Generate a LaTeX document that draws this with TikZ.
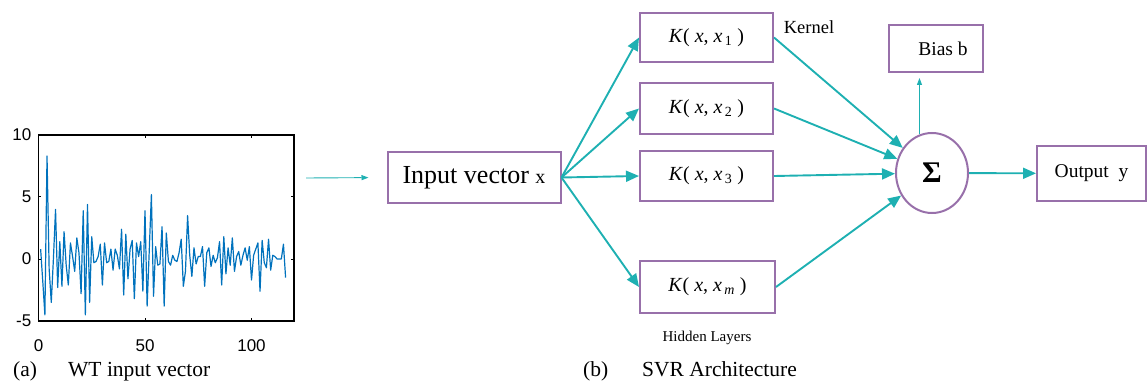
\documentclass[tikz,border=0pt]{standalone}
\usepackage{fontspec}
\setmainfont{Liberation Serif}
\newfontfamily\axisfont{Liberation Sans}
\usetikzlibrary{arrows.meta,shapes.geometric}
\definecolor{svrteal}{RGB}{30,176,178}
\definecolor{svrpurple}{RGB}{152,112,170}
\definecolor{wtblue}{RGB}{0,114,189}
\def\wtsignal{(1,0.8) -- (2,-1.8) -- (3,-4.5) -- (4,8.3) -- (5,-0.8) -- (6,-3.5) -- (7,0.0) -- (8,4.0) -- (9,-2.3) -- (10,1.4)
 -- (11,-2.2) -- (12,2.2) -- (13,-0.5) -- (14,-2.1) -- (15,1.3) -- (16,0.2) -- (17,-1.0) -- (18,1.7) -- (19,0.5) -- (20,-2.8)
 -- (21,3.9) -- (22,-4.5) -- (23,4.4) -- (24,-3.5) -- (25,1.8) -- (26,-0.3) -- (27,-0.2) -- (28,0.2) -- (29,1.2) -- (30,-2.1)
 -- (31,1.3) -- (32,-0.3) -- (33,-0.2) -- (34,0.8) -- (35,-0.9) -- (36,0.8) -- (37,0.3) -- (38,-0.8) -- (39,2.4) -- (40,-2.9)
 -- (41,2.0) -- (42,-1.6) -- (43,0.8) -- (44,1.5) -- (45,-3.2) -- (46,1.3) -- (47,0.2) -- (48,1.4) -- (49,-2.6) -- (50,3.9)
 -- (51,-3.8) -- (52,0.7) -- (53,5.2) -- (54,-3.0) -- (55,1.0) -- (56,-0.5) -- (57,-0.4) -- (58,2.6) -- (59,-3.8) -- (60,2.1)
 -- (61,-0.2) -- (62,-0.5) -- (63,0.3) -- (64,-0.1) -- (65,-0.2) -- (66,0.5) -- (67,1.6) -- (68,-2.2) -- (69,-1.0) -- (70,3.5)
 -- (71,0.3) -- (72,-1.4) -- (73,0.9) -- (74,-0.4) -- (75,0.2) -- (76,0.2) -- (77,1.0) -- (78,-2.2) -- (79,0.5) -- (80,0.9)
 -- (81,-0.6) -- (82,0.3) -- (83,-0.3) -- (84,0.1) -- (85,1.4) -- (86,-2.1) -- (87,1.8) -- (88,-1.2) -- (89,0.9) -- (90,-0.5)
 -- (91,1.7) -- (92,-1.0) -- (93,0.2) -- (94,0.6) -- (95,-0.5) -- (96,0.3) -- (97,0.9) -- (98,-0.1) -- (99,1.0) -- (100,-1.7)
 -- (101,0.3) -- (102,0.8) -- (103,1.3) -- (104,-2.6) -- (105,1.5) -- (106,-0.3) -- (107,-0.7) -- (108,1.6) -- (109,-0.9) -- (110,0.3)
 -- (111,0.2) -- (112,0.0) -- (113,0.0) -- (114,0.0) -- (115,1.2) -- (116,-1.5)}
\tikzset{
    kbox/.style={draw=svrpurple, line width=2pt, minimum width=133pt, minimum height=50pt,
        inner sep=0pt, font=\fontsize{20}{22}\selectfont},
    link/.style={svrteal, line width=1.9pt, -{Triangle[length=13pt,width=11pt]}},
    thinlink/.style={svrteal, line width=0.9pt, -{Triangle[length=7pt,width=5pt]}},
    ticklabel/.style={font=\axisfont\fontsize{17}{17}\selectfont, inner sep=0pt},
    caption/.style={font=\fontsize{21.5}{24}\selectfont, inner sep=0pt, anchor=base west},
}

\begin{document}
\begin{tikzpicture}[x=1pt, y=-1pt]
    \useasboundingbox (0,0) rectangle (1147,387);
    % (a) the WT signal
    \begin{scope}[shift={(38.5,259)}, x=2.13pt, y=12.4pt]
        \draw[wtblue, line width=1.2pt, line join=round] \wtsignal;
        \draw[line width=1.3pt] (0,-5) rectangle (120,10);
        \foreach \t in {50,100} {
            \draw[line width=1pt] (\t,-5) -- ++(0,0.25);
            \draw[line width=1pt] (\t,10) -- ++(0,-0.25);
        }
        \foreach \t in {-5,0,5,10} {
            \draw[line width=1pt] (0,\t) -- ++(1.4,0);
            \draw[line width=1pt] (120,\t) -- ++(-1.4,0);
        }
        \foreach \t in {0,50,100}
            \node[ticklabel] (xt\t) at (\t,-6.95) {\t};
        \foreach \t in {-5,0,5,10}
            \node[ticklabel, anchor=east] (yt\t) at (-3.3,\t) {\t};
    \end{scope}
    \node[caption] (capa) at (13,376) {(a)};
    \node[caption] (capatext) at (68,376) {WT input vector};

    % (b) the SVR network
    \node[kbox, minimum width=173pt, minimum height=51pt, font=\fontsize{26}{28}\selectfont]
        (input) at (474,177.5) {Input vector {\fontsize{20}{20}\selectfont x}};
    \node[kbox, minimum height=49pt] (k1) at (706.5,37.5) {\textit{K}( \textit{x}, \textit{x}\textsubscript{\,1} )};
    \node[kbox, minimum height=51pt] (k2) at (706.5,108.5) {\textit{K}( \textit{x}, \textit{x}\textsubscript{\,2} )};
    \node[kbox] (k3) at (706.5,176) {\textit{K}( \textit{x}, \textit{x}\textsubscript{\,3} )};
    \node[kbox, minimum width=135pt, minimum height=52pt] (km) at (707.5,287)
        {\raisebox{-6pt}{\textit{K}( \textit{x}, \textit{x}\textsubscript{\,\textit{m}} )}};
    \node[font=\fontsize{18.5}{20}\selectfont, inner sep=0pt] (kernel) at (809,27) {Kernel};
    \node[font=\fontsize{15}{16}\selectfont, inner sep=0pt] (hidden) at (707,338) {Hidden Layers};
    \node[kbox, minimum width=94pt, minimum height=47pt, font=\fontsize{19.5}{21}\selectfont]
        (bias) at (936,48.5) {\hspace*{14pt}Bias b};
    \node[ellipse, draw=svrpurple, line width=2pt, minimum width=72pt, minimum height=80pt,
        inner sep=0pt, font=\bfseries\fontsize{30}{30}\selectfont] (sum) at (932,173) {Σ};
    \node[kbox, minimum width=109pt, minimum height=55pt, font=\fontsize{19.5}{21}\selectfont]
        (output) at (1091.5,173.5) {Output\ \ y};
    \node[caption] (capb) at (583,376) {(b)};
    \node[caption] (capbtext) at (642,376) {SVR Architecture};

    \coordinate (wtout) at (306,178);
    \draw[thinlink, shorten >=18pt] (wtout) -- (input.west);
    \foreach \k in {k1,k2,k3,km}
        \draw[link] (input.east) -- (\k.west);
    \foreach \k in {k1,k2,k3,km}
        \draw[link] (\k.east) -- (sum);
    \draw[thinlink, shorten >=5pt] (sum.108) -- (sum.108 |- bias.south);
    \draw[link] (sum) -- (output);
\end{tikzpicture}
\end{document}
